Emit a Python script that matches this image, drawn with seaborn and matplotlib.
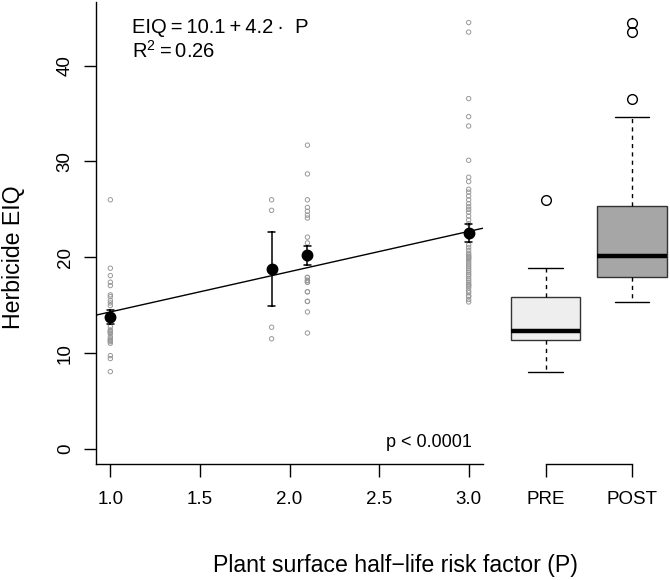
import numpy as np
import pandas as pd
import seaborn as sns
import matplotlib.pyplot as plt

# Herbicide EIQ values, one list per plant surface factor P
eiq_p10 = [8.07, 9.43, 9.74, 11.03, 11.2, 11.3, 11.38, 11.5, 11.72, 12.07, 12.1, 12.25, 12.35,
           12.42, 12.77, 14.96, 15.24, 15.5, 15.9, 16.08, 17.05, 17.4, 18.09, 18.86, 26.0]
eiq_p19 = [26.0, 24.9, 12.7, 11.5]
eiq_p21 = [31.7, 28.7, 26.0, 25.2, 24.8, 24.4, 24.1, 22.1, 21.5, 20.4, 19.8, 17.9, 17.9,
           17.6, 17.6, 17.4, 17.4, 16.4, 16.4, 15.4, 15.4, 14.3, 12.1]
eiq_p30 = [15.34, 15.6, 15.9, 16.0, 16.3, 16.5, 16.8, 17.0, 17.1, 17.2, 17.4, 17.6, 17.8,
           18.05, 18.2, 18.4, 18.6, 18.8, 19.0, 19.2, 19.4, 19.6, 19.8, 19.9, 20.0, 20.1,
           20.25, 20.4, 20.7, 21.0, 21.3, 22.1, 22.8, 23.5, 23.9, 24.3, 24.7, 25.0, 25.28,
           25.6, 26.0, 26.4, 26.8, 27.1, 27.9, 28.35, 30.12, 33.7, 34.68, 36.56, 43.5, 44.5]
p_levels = [1.0, 1.9, 2.1, 3.0]
phase_labels = ['PRE', 'POST']
phase_colors = ['#eeeeee', '#a6a6a6']
x_ticks = [1.0, 1.5, 2.0, 2.5, 3.0]
y_ticks = [0, 10, 20, 30, 40]

# fitted model shown on the chart
fit_intercept = 10.1
fit_slope = 4.2
r_squared = 0.26
p_text = 'p < 0.0001'

groups = [eiq_p10, eiq_p19, eiq_p21, eiq_p30]
df = pd.DataFrame({'P': np.repeat(p_levels, [len(g) for g in groups]),
                   'EIQ': np.concatenate(groups)})
# PRE = P 1.0 herbicides, POST = P 3.0 herbicides
box_df = pd.DataFrame({'phase': ['PRE'] * len(eiq_p10) + ['POST'] * len(eiq_p30),
                       'EIQ': eiq_p10 + eiq_p30})

sns.set_theme(style='ticks')
plt.rcParams['font.family'] = ['Liberation Sans', 'DejaVu Sans']
plt.rcParams['mathtext.fontset'] = 'custom'
plt.rcParams['mathtext.rm'] = 'Liberation Sans'
plt.rcParams['axes.linewidth'] = 1.0
plt.rcParams['axes.edgecolor'] = 'black'
plt.rcParams['text.color'] = 'black'

fig = plt.figure(figsize=(6.7, 5.8), dpi=100)
ax = fig.add_axes([0.1433, 0.1995, 0.5776, 0.7964])
bx = fig.add_axes([0.7499, 0.1995, 0.2501, 0.7964])
ylim = (-1.6, 46.6)

# raw points
sns.scatterplot(data=df, x='P', y='EIQ', ax=ax, s=10, linewidth=0.7, zorder=2)
pts = ax.collections[-1]
pts.set_facecolor('none')
pts.set_edgecolor('#999999')

# regression line
ax.axline((0, fit_intercept), slope=fit_slope, color='black', lw=1.0, zorder=3)

# group means +/- SE
sns.pointplot(data=df, x='P', y='EIQ', native_scale=True, errorbar='se', linestyle='none',
              color='black', markersize=6.5, capsize=0.2, err_kws={'linewidth': 1.1}, ax=ax)

ax.set_xlim(0.92, 3.08)
ax.set_ylim(*ylim)
ax.set_xticks(x_ticks)
ax.set_xticklabels([f'{t:.1f}' for t in x_ticks])
ax.set_yticks(y_ticks)
ax.set_xlabel('')
ax.set_ylabel('')
sns.despine(ax=ax)
ax.tick_params(axis='both', length=9, width=1, labelsize=13.5, colors='black')
ax.tick_params(axis='x', pad=10)
ax.tick_params(axis='y', pad=7)
plt.setp(ax.get_yticklabels(), rotation=90, va='center')

ts = '\u2009'
ax.text(0.0938, 0.933, f'EIQ{ts}={ts}{fit_intercept:.1f}{ts}+{ts}{fit_slope:.1f}{ts}\u00b7  P',
        transform=ax.transAxes, fontsize=14.5, va='baseline', ha='left')
ax.text(0.0938, 0.879, f'R$^2${ts}={ts}{r_squared:.2f}', transform=ax.transAxes,
        fontsize=14.5, va='baseline', ha='left')
ax.text(0.971, 0.038, p_text, transform=ax.transAxes, fontsize=13,
        va='baseline', ha='right')

# PRE / POST boxplots
sns.boxplot(data=box_df, x='phase', y='EIQ', hue='phase', order=phase_labels,
            hue_order=phase_labels, palette=phase_colors, saturation=1, width=0.8,
            linecolor='#333333', linewidth=1.0, fliersize=7, legend=False, ax=bx,
            medianprops={'color': 'black', 'linewidth': 3.2},
            whiskerprops={'color': 'black', 'linestyle': (0, (3, 3))},
            capprops={'color': 'black'},
            flierprops={'marker': 'o', 'markerfacecolor': 'none',
                        'markeredgecolor': 'black', 'markeredgewidth': 1.0})
bx.set_xlim(-0.5, 1.44)
bx.set_ylim(*ylim)
bx.set_xlabel('')
bx.set_ylabel('')
bx.set_yticks([])
for side in ['left', 'top', 'right']:
    bx.spines[side].set_visible(False)
bx.spines['bottom'].set_bounds(0, 1)
bx.tick_params(axis='x', length=9, width=1, labelsize=13.5, colors='black', pad=10)

fig.text(0.5896, 0.0143, 'Plant surface half\u2212life risk factor (P)', ha='center',
         va='baseline', fontsize=16.7)
fig.text(0.02, 0.557, 'Herbicide EIQ', rotation=90, ha='center', va='center', fontsize=16.7)

fig.savefig('out.png', dpi=100)
